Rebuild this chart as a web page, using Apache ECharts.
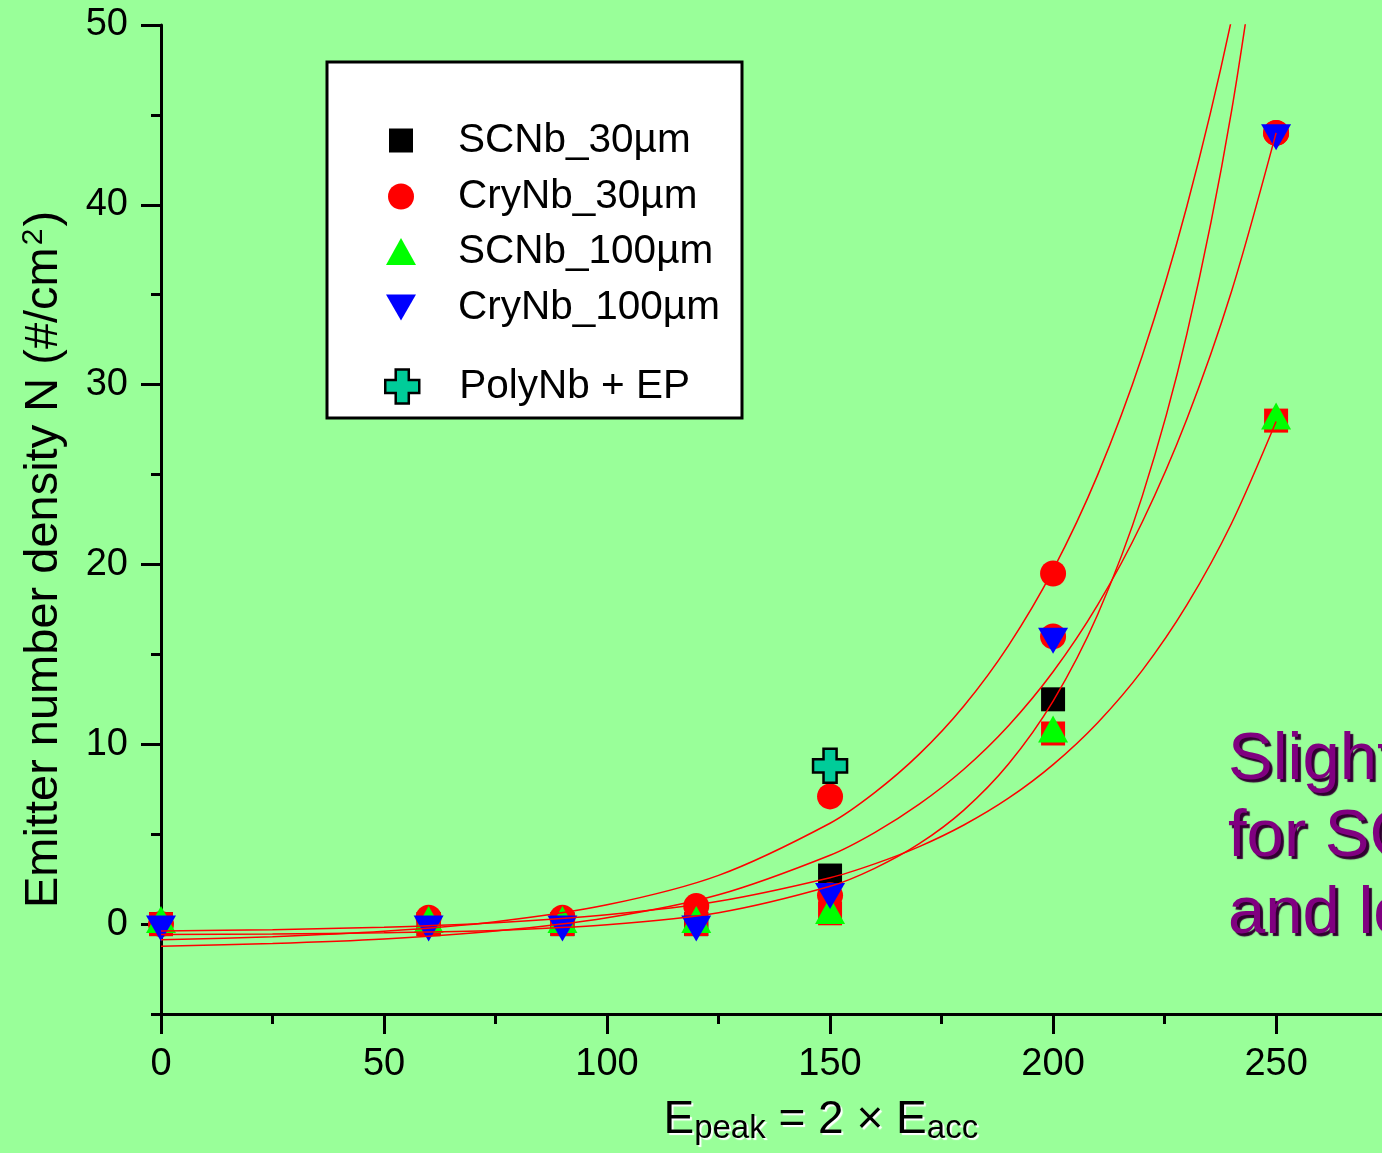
<!DOCTYPE html>
<html>
<head>
<meta charset="utf-8">
<script src="https://cdn.jsdelivr.net/npm/echarts@6/dist/echarts.min.js"></script>
<style>
  html, body { margin: 0; padding: 0; background: #99ff99; }
  #chart { width: 1382px; height: 1153px; }
</style>
</head>
<body>
<div id="chart"></div>
<script>
// measured points (E_peak positions)
const xVals = [0, 60, 90, 120, 150, 200, 250];
const scnb30 = [0, 0, 0, 0, 2.7, 12.5, null];
const crynb30 = [0, 0.35, 0.35, 1.0, 7.1, 19.5, 44];
const scnb100 = [0, 0, 0, 0, 0.5, 10.6, 28];
const crynb100 = [0, 0, 0, 0, 1.8, 16, 44];
// red markers sitting under the triangles
const redSquare = [0, 0, 0, 0, 0.6, 10.6, 28];
const redCircle = [null, null, null, null, 1.6, 16, 44];
const polyX = [150];
const polyEP = [8.8];

// exponential fit curves
const fitX = [0, 25, 50, 75, 100, 125, 150, 160, 170, 180, 190, 200, 210, 220, 230, 240, 250];
const fitA = [-0.87, -0.70, -0.40, 0.13, 1.07, 2.71, 5.61, 7.31, 9.45, 12.13, 15.49, 19.70, 24.98, 31.61, 39.92, 50.3, 63.4];
const fitB = [-0.58, -0.55, -0.48, -0.35, -0.04, 0.63, 2.10, 3.10, 4.47, 6.34, 8.90, 12.40, 17.22, 23.80, 32.82, 45.19, 62.1];
const fitC = [-1.23, -1.08, -0.83, -0.39, 0.35, 1.63, 3.83, 5.09, 6.67, 8.61, 11.03, 14.03, 17.75, 22.36, 28.09, 35.18, 44.0];
const fitD = [-0.39, -0.31, -0.17, 0.08, 0.52, 1.27, 2.58, 3.35, 4.31, 5.51, 7.00, 8.87, 11.20, 14.11, 17.75, 22.28, 27.95];

const xTicks = [0, 50, 100, 150, 200, 250];
const xMinorTicks = [25, 75, 125, 175, 225];
const yTicks = [0, 10, 20, 30, 40, 50];
const yMinorTicks = [-5, 5, 15, 25, 35, 45];

const noteLines = ['Slightly', 'for SCNb', 'and lower'];

const FONT = '"Liberation Sans", Arial, sans-serif';

function pairs(xs, ys) {
  return xs.map((x, i) => [x, ys[i]]).filter(p => p[1] != null);
}

const chart = echarts.init(document.getElementById('chart'));

function scatter(name, ys, symbol, size, color, extra) {
  return Object.assign({
    name: name,
    type: 'scatter',
    data: pairs(xVals, ys),
    symbol: symbol,
    symbolSize: size,
    itemStyle: { color: color, opacity: 1 },
    emphasis: { disabled: true },
    z: 2
  }, extra || {});
}

function fitLine(ys) {
  return {
    name: 'fit',
    type: 'line',
    data: pairs(fitX, ys),
    showSymbol: false,
    symbol: 'none',
    smooth: 0.3,
    lineStyle: { color: '#ff0000', width: 1.5 },
    emphasis: { disabled: true },
    z: 3
  };
}

const downTri = 'path://M0,0L30,0L15,26Z';
const cross = 'path://M8,0H18V8H26V18H18V26H8V18H0V8H8Z';

function legendRow(name, rowY, w, h, extra) {
  return Object.assign({
    data: [name],
    left: 401 - w / 2,
    top: rowY - 20,
    orient: 'horizontal',
    padding: 0,
    itemWidth: w,
    itemHeight: h,
    selectedMode: false,
    textStyle: {
      fontSize: 40.5, lineHeight: 40, color: '#000', fontFamily: FONT,
      padding: [0, 0, 0, 52 - w / 2]
    }
  }, extra || {});
}

const option = {
  backgroundColor: '#99ff99',
  animation: false,
  grid: { left: 161, top: 25, right: -5.6, bottom: 139, containLabel: false, outerBoundsMode: 'none' },
  legend: [
    legendRow('SCNb_30µm', 140, 24, 24),
    legendRow('CryNb_30µm', 196, 26, 26),
    legendRow('SCNb_100µm', 251, 30, 27),
    legendRow('CryNb_100µm', 307, 30, 26),
    legendRow('PolyNb + EP', 386, 34, 34, { itemStyle: { borderColor: '#000', borderWidth: 2.5 } })
  ],
  graphic: [
    {
      type: 'rect', z: 0,
      shape: { x: 327, y: 62, width: 415, height: 356 },
      style: { fill: '#ffffff', stroke: '#000', lineWidth: 3 }
    },
    {
      type: 'text', z: 10, x: 1228, y: 722,
      style: {
        text: noteLines.join('\n'),
        font: '67px ' + FONT,
        fill: '#800080',
        lineHeight: 77,
        verticalAlign: 'top',
        textShadowColor: '#300030',
        textShadowOffsetX: 3,
        textShadowOffsetY: 3,
        textShadowBlur: 1,
        shadowColor: '#300030',
        shadowOffsetX: 3,
        shadowOffsetY: 3,
        shadowBlur: 1
      }
    }
  ],
  xAxis: [
    {
      type: 'value', min: 0, max: 275, position: 'bottom',
      axisLine: { show: true, onZero: false, lineStyle: { color: '#000', width: 3 } },
      axisTick: { show: true, inside: false, length: 20, customValues: xTicks, lineStyle: { color: '#000', width: 3 } },
      axisLabel: { customValues: xTicks, fontSize: 38, color: '#000', margin: 32, fontFamily: FONT },
      splitLine: { show: false },
      name: '{e|E}{sub|peak}{e| = 2 × E}{sub|acc}',
      nameLocation: 'middle',
      nameGap: 81,
      nameMoveOverlap: false,
      nameTextStyle: {
        padding: [0, 0, 0, 93],
        rich: {
          e: { fontSize: 46, lineHeight: 50, color: '#000', fontFamily: FONT, verticalAlign: 'middle',
               textShadowColor: '#fff', textShadowOffsetX: 2, textShadowOffsetY: 2, textShadowBlur: 1 },
          sub: { fontSize: 33, lineHeight: 50, color: '#000', fontFamily: FONT, verticalAlign: 'bottom',
                 padding: [38, 0, 0, 0],
                 textShadowColor: '#fff', textShadowOffsetX: 2, textShadowOffsetY: 2, textShadowBlur: 1 }
        }
      }
    },
    {
      type: 'value', min: 0, max: 275, position: 'bottom',
      axisLine: { show: false, onZero: false },
      axisTick: { show: true, inside: false, length: 10, customValues: xMinorTicks, lineStyle: { color: '#000', width: 3 } },
      axisLabel: { show: false },
      splitLine: { show: false }
    }
  ],
  yAxis: [
    {
      type: 'value', min: -5, max: 50, position: 'left',
      axisLine: { show: true, onZero: false, lineStyle: { color: '#000', width: 3 } },
      axisTick: { show: true, inside: false, length: 20, customValues: yTicks, lineStyle: { color: '#000', width: 3 } },
      axisLabel: { customValues: yTicks, fontSize: 38, color: '#000', margin: 33, fontFamily: FONT },
      splitLine: { show: false },
      name: '{m|Emitter number density N (#/cm}{sup|2}{m|)}',
      nameLocation: 'middle',
      nameGap: 92,
      nameMoveOverlap: false,
      nameTextStyle: {
        padding: [0, 80, 0, 0],
        rich: {
          m: { fontSize: 47, lineHeight: 50, color: '#000', fontFamily: FONT, verticalAlign: 'middle' },
          sup: { fontSize: 30, lineHeight: 50, color: '#000', fontFamily: FONT, verticalAlign: 'top',
                 padding: [0, 2, 40, 2] }
        }
      }
    },
    {
      type: 'value', min: -5, max: 50, position: 'left',
      axisLine: { show: false, onZero: false },
      axisTick: { show: true, inside: false, length: 10, customValues: yMinorTicks, lineStyle: { color: '#000', width: 3 } },
      axisLabel: { show: false },
      splitLine: { show: false }
    }
  ],
  series: [
    scatter('SCNb_30µm', scnb30, 'rect', 24, '#000000'),
    scatter('redSquare', redSquare, 'rect', 24, '#ff0000'),
    scatter('CryNb_30µm', crynb30, 'circle', 26, '#ff0000'),
    scatter('redCircle', redCircle, 'circle', 26, '#ff0000'),
    scatter('SCNb_100µm', scnb100, 'triangle', [30, 27], '#00ff00', { symbolOffset: [0, -4.5] }),
    scatter('CryNb_100µm', crynb100, downTri, [30, 26], '#0000ff', { symbolOffset: [0, 4.3] }),
    {
      name: 'PolyNb + EP',
      type: 'scatter',
      data: pairs(polyX, polyEP),
      symbol: cross,
      symbolSize: 34,
      itemStyle: { color: '#00cc99', borderColor: '#000', borderWidth: 2.5, opacity: 1 },
      emphasis: { disabled: true },
      z: 2
    },
    fitLine(fitA),
    fitLine(fitB),
    fitLine(fitC),
    fitLine(fitD)
  ]
};

chart.setOption(option);
</script>
</body>
</html>
